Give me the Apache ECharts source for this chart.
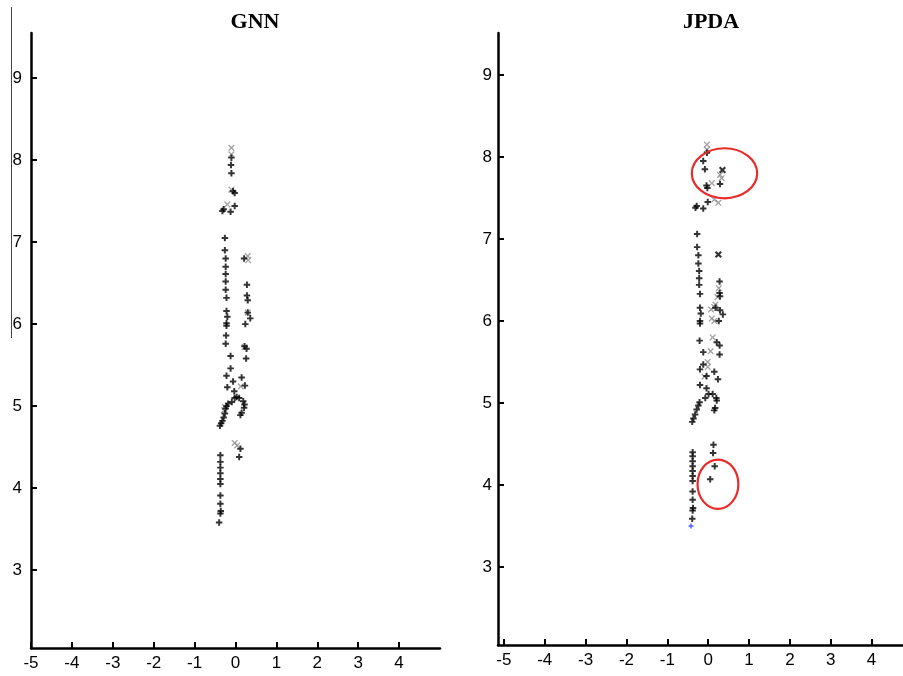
<!DOCTYPE html>
<html>
<head>
<meta charset="utf-8">
<script src="https://cdn.jsdelivr.net/npm/echarts@6/dist/echarts.min.js"></script>
<style>
  html, body { margin: 0; padding: 0; background: #fff; }
  #chart { width: 903px; height: 676px; }
</style>
</head>
<body>
<div id="chart"></div>
<script>
// Panel titles and axis tick values
const panelTitles = ['GNN', 'JPDA'];
const xTicks = [-5, -4, -3, -2, -1, 0, 1, 2, 3, 4];
const yTicks = [3, 4, 5, 6, 7, 8, 9];

// GNN: confirmed track points (black) and rejected candidates (grey)
const gnnTrack = [
  [-0.10, 8.03], [-0.11, 7.94], [-0.10, 7.84], [-0.06, 7.62], [-0.02, 7.60],
  [-0.29, 7.40], [-0.32, 7.38], [-0.12, 7.37], [-0.02, 7.44],
  [-0.26, 7.05], [-0.26, 6.90], [-0.24, 6.80], [-0.24, 6.70], [-0.24, 6.61], [0.21, 6.80],
  [-0.24, 6.52], [-0.24, 6.42], [-0.22, 6.32], [0.28, 6.48], [0.28, 6.35], [0.30, 6.29],
  [-0.22, 6.16], [-0.20, 6.09], [-0.22, 6.01], [-0.22, 5.98], [0.30, 6.14], [0.36, 6.07], [0.24, 6.00],
  [-0.23, 5.86], [-0.24, 5.76], [0.22, 5.73], [0.27, 5.70], [-0.12, 5.61], [0.26, 5.58],
  [-0.12, 5.46], [-0.22, 5.37], [0.15, 5.35], [-0.06, 5.30], [0.23, 5.25], [-0.20, 5.23],
  [-0.03, 5.18], [-0.02, 5.10], [0.03, 5.11], [0.09, 5.10], [-0.09, 5.05], [0.19, 5.06],
  [0.22, 5.02], [0.21, 4.98], [-0.18, 5.03], [-0.22, 5.00], [-0.24, 4.97],
  [0.15, 4.92], [0.12, 4.89], [-0.26, 4.91], [-0.29, 4.86], [-0.32, 4.82], [-0.35, 4.79], [-0.38, 4.76],
  [0.12, 4.48], [0.09, 4.38],
  [-0.37, 4.40], [-0.37, 4.32], [-0.37, 4.25], [-0.37, 4.18], [-0.37, 4.11], [-0.37, 4.05],
  [-0.37, 3.91], [-0.37, 3.81], [-0.36, 3.72], [-0.37, 3.69], [-0.40, 3.58]
];
const gnnGhost = [
  [-0.10, 8.15], [-0.10, 8.07], [-0.10, 7.64], [-0.20, 7.46], [0.30, 6.83], [0.31, 6.78],
  [0.30, 6.14], [0.22, 5.72], [0.13, 5.24], [-0.26, 4.99], [-0.28, 4.95],
  [-0.02, 4.55], [0.04, 4.52]
];

// JPDA: track points, weighted candidates, and the start point
const jpdaTrack = [
  [-0.03, 8.05], [-0.12, 7.95], [-0.08, 7.85], [-0.04, 7.65], [-0.02, 7.62], [0.29, 7.67],
  [-0.28, 7.40], [-0.31, 7.38], [-0.12, 7.37], [-0.01, 7.45],
  [-0.27, 7.06], [-0.27, 6.90], [-0.24, 6.80], [-0.24, 6.70], [-0.22, 6.61], [-0.22, 6.52],
  [-0.22, 6.44], [-0.20, 6.33], [0.28, 6.48], [0.28, 6.34], [0.29, 6.30],
  [-0.20, 6.16], [-0.18, 6.09], [-0.20, 6.00], [-0.20, 5.97], [0.18, 6.16], [0.29, 6.13], [0.36, 6.08], [0.26, 6.00],
  [-0.21, 5.76], [0.21, 5.74], [0.28, 5.70], [-0.12, 5.62], [0.28, 5.59], [-0.12, 5.47],
  [-0.20, 5.41], [0.15, 5.38], [-0.04, 5.33], [0.24, 5.29], [-0.20, 5.22], [-0.04, 5.18],
  [0.01, 5.11], [0.11, 5.11], [-0.07, 5.06], [0.20, 5.06], [0.21, 5.03], [-0.21, 5.01],
  [-0.24, 4.97], [-0.28, 4.92], [-0.32, 4.86], [-0.36, 4.81], [-0.39, 4.77], [0.17, 4.94], [0.15, 4.91],
  [0.13, 4.49], [0.12, 4.39], [0.16, 4.23], [0.05, 4.07],
  [-0.38, 4.40], [-0.38, 4.35], [-0.38, 4.29], [-0.38, 4.23], [-0.38, 4.17], [-0.38, 4.11],
  [-0.38, 4.05], [-0.38, 3.92], [-0.38, 3.82], [-0.37, 3.72], [-0.38, 3.69], [-0.39, 3.59]
];
const jpdaGhost = [
  [-0.03, 8.15], [-0.03, 8.09], [0.09, 7.68], [0.29, 7.78], [0.33, 7.74], [0.15, 7.48], [0.25, 7.44],
  [0.26, 6.40], [0.23, 6.29], [0.07, 6.14], [0.15, 6.17], [0.18, 6.20], [0.09, 6.03], [0.15, 6.00],
  [0.11, 5.80], [0.06, 5.63], [-0.01, 5.50], [-0.01, 5.44], [-0.09, 5.32]
];
const jpdaCross = [[0.35, 7.84], [0.25, 6.81]];
const jpdaStart = [[-0.42, 3.50]];
// Highlighted regions: centre x, centre y, radius x, radius y
const jpdaRings = [[0.40, 7.80, 0.80, 0.305], [0.24, 4.01, 0.50, 0.30]];

const plusPath = 'path://M2.1,0H3.9V2.1H6V3.9H3.9V6H2.1V3.9H0V2.1H2.1Z';
const thinPlusPath = 'path://M2.5,0H3.5V2.5H6V3.5H3.5V6H2.5V3.5H0V2.5H2.5Z';
const boldXPath = 'path://M2.2,0H3.8V2.2H6V3.8H3.8V6H2.2V3.8H0V2.2H2.2Z';

const axisLine = { show: true, onZero: false, lineStyle: { color: '#000', width: 2.5 } };
const axisTick = (vals) => ({
  show: true, inside: true, length: 6, customValues: vals,
  lineStyle: { color: '#000', width: 2 }
});
const labelFont = { color: '#000', fontSize: 17, fontFamily: 'Liberation Sans, Arial, sans-serif' };

function makeX(idx, min, max) {
  return {
    type: 'value', gridIndex: idx, min: min, max: max,
    axisLine: axisLine, axisTick: axisTick(xTicks),
    axisLabel: Object.assign({ customValues: xTicks, margin: 7 }, labelFont),
    splitLine: { show: false }
  };
}
function makeY(idx, max, margin) {
  return {
    type: 'value', gridIndex: idx, min: 2.05, max: max,
    axisLine: axisLine, axisTick: axisTick(yTicks),
    axisLabel: Object.assign({ customValues: yTicks, margin: margin }, labelFont),
    splitLine: { show: false }
  };
}

function trackSeries(data, axis) {
  return {
    type: 'scatter', xAxisIndex: axis, yAxisIndex: axis, data: data,
    symbol: plusPath, symbolSize: 6.5, itemStyle: { color: '#000' }, z: 3
  };
}
function ghostSeries(data, axis, color, path, size) {
  return {
    type: 'scatter', xAxisIndex: axis, yAxisIndex: axis, data: data,
    symbol: path, symbolSize: size, symbolRotate: 45,
    itemStyle: { color: color }, z: 2
  };
}

const titleStyle = { fontFamily: 'Liberation Serif, Times New Roman, serif', fontWeight: 'bold', fontSize: 22, color: '#000' };

const chart = echarts.init(document.getElementById('chart'), null, { renderer: 'canvas' });
chart.setOption({
  animation: false,
  backgroundColor: '#fff',
  title: [
    { text: panelTitles[0], left: 250, top: 6, textAlign: 'center', textStyle: titleStyle },
    { text: panelTitles[1], left: 706, top: 6, textAlign: 'center', textStyle: titleStyle }
  ],
  grid: [
    { left: 31, right: 463, top: 33, bottom: 28 },
    { left: 498, right: 0, top: 33, bottom: 31 }
  ],
  xAxis: [makeX(0, -5, 5), makeX(1, -5.145, 4.77)],
  yAxis: [makeY(0, 9.55, 9), makeY(1, 9.51, 6)],
  graphic: [
    { type: 'line', shape: { x1: 11.5, y1: 7, x2: 11.5, y2: 338 }, style: { stroke: '#444', lineWidth: 1 } }
  ],
  series: [
    ghostSeries(gnnGhost, 0, '#8c8c8c', thinPlusPath, 8),
    trackSeries(gnnTrack, 0),
    ghostSeries(jpdaGhost, 1, '#8c8c8c', thinPlusPath, 8),
    trackSeries(jpdaTrack, 1),
    ghostSeries(jpdaCross, 1, '#000', boldXPath, 8),
    {
      type: 'scatter', xAxisIndex: 1, yAxisIndex: 1, data: jpdaStart,
      symbol: plusPath, symbolSize: 5, itemStyle: { color: '#1f3fff' }, z: 3
    },
    {
      type: 'custom', xAxisIndex: 1, yAxisIndex: 1, data: jpdaRings, z: 4,
      renderItem: function (params, api) {
        const c = api.coord([api.value(0), api.value(1)]);
        const s = api.size([api.value(2), api.value(3)]);
        return {
          type: 'ellipse',
          shape: { cx: c[0], cy: c[1], rx: s[0], ry: s[1] },
          style: { fill: 'none', stroke: '#e82b2b', lineWidth: 2.2 }
        };
      }
    }
  ]
});
</script>
</body>
</html>
